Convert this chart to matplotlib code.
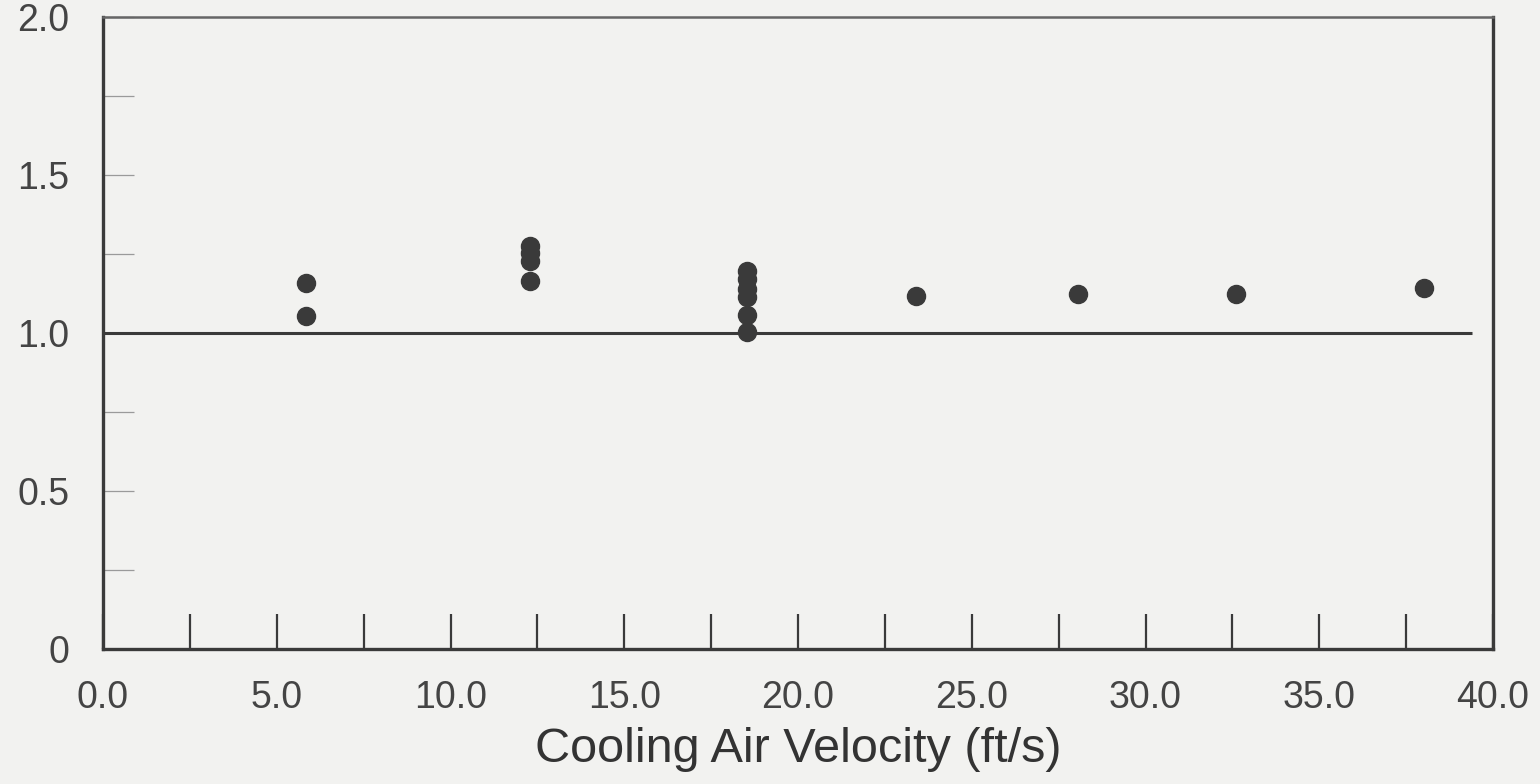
import matplotlib
matplotlib.use("Agg")
import matplotlib.pyplot as plt
from matplotlib.ticker import FixedLocator

# ---- data ----
velocity = [5.83, 5.83,
            12.3, 12.3, 12.3, 12.3,
            18.52, 18.52, 18.52, 18.52, 18.52, 18.52,
            23.4, 28.05, 32.6, 38.0]
ratio = [1.159, 1.054,
         1.276, 1.254, 1.229, 1.166,
         1.198, 1.172, 1.141, 1.115, 1.058, 1.003,
         1.119, 1.123, 1.125, 1.143]
ref_x = [0.0, 39.4]
ref_y = [1.0, 1.0]
x_ticks = [0, 5, 10, 15, 20, 25, 30, 35, 40]
x_labels = ["0.0", "5.0", "10.0", "15.0", "20.0", "25.0", "30.0", "35.0", "40.0"]
x_minor = [2.5, 7.5, 12.5, 17.5, 22.5, 27.5, 32.5, 37.5]
y_ticks = [0, 0.5, 1.0, 1.5, 2.0]
y_labels = ["0", "0.5", "1.0", "1.5", "2.0"]
y_minor = [0.25, 0.75, 1.25, 1.75]
x_title = "Cooling Air Velocity (ft/s)"

plt.rcParams['font.family'] = ['Liberation Sans', 'DejaVu Sans']
bg = '#f2f2f0'
ink = '#3a3a3a'

fig = plt.figure(figsize=(15.4, 7.84), dpi=100, facecolor=bg)
ax = fig.add_axes([0.0669, 0.1720, 0.9026, 0.8060])
ax.set_facecolor(bg)

ax.plot(ref_x, ref_y, color=ink, lw=2.2, solid_capstyle='butt', zorder=2)
ax.plot(velocity, ratio, linestyle='none', marker='o', ms=13,
        color=ink, mec=ink, zorder=3)

ax.set_xlim(0, 40)
ax.set_ylim(0, 2.0)

ax.xaxis.set_major_locator(FixedLocator(x_ticks))
ax.set_xticklabels(x_labels)
ax.xaxis.set_minor_locator(FixedLocator(x_minor))
ax.yaxis.set_major_locator(FixedLocator(y_ticks))
ax.set_yticklabels(y_labels)
ax.yaxis.set_minor_locator(FixedLocator(y_minor))

ax.tick_params(axis='x', which='both', direction='in', length=25, width=1.6,
               color=ink, pad=22, labelsize=27, labelcolor='#444444')
ax.tick_params(axis='y', which='both', direction='in', length=22, width=0.9,
               color='#9a9a9a', pad=24, labelsize=27, labelcolor='#444444')

for side in ['left', 'bottom', 'right']:
    ax.spines[side].set_color(ink)
    ax.spines[side].set_linewidth(2.4)
ax.spines['top'].set_color('#666666')
ax.spines['top'].set_linewidth(1.8)

ax.set_xlabel(x_title, fontsize=35, color='#333333', labelpad=8)

fig.savefig("out.png", dpi=100, facecolor=bg)
